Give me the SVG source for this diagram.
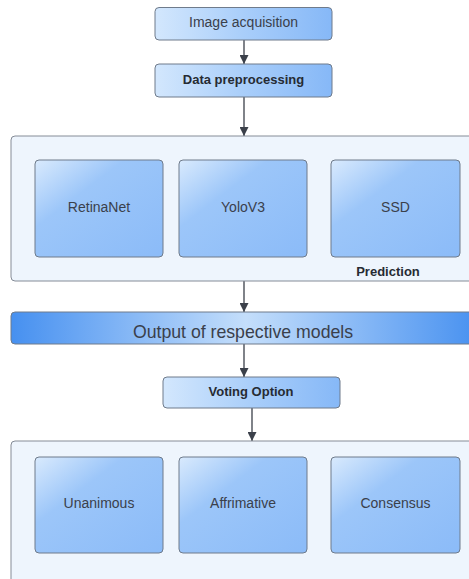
<svg xmlns="http://www.w3.org/2000/svg" width="469" height="579" viewBox="0 0 469 579">
<defs>
<linearGradient id="gBox" x1="0" y1="0" x2="1" y2="1">
<stop offset="0" stop-color="#d9eafd"/>
<stop offset="0.35" stop-color="#9cc6f9"/>
<stop offset="1" stop-color="#8bbbf8"/>
</linearGradient>
<linearGradient id="gSmall" x1="0" y1="0" x2="1" y2="0">
<stop offset="0" stop-color="#d3e7fd"/>
<stop offset="0.5" stop-color="#a9cefa"/>
<stop offset="1" stop-color="#86b8f7"/>
</linearGradient>
<linearGradient id="gBar" x1="0" y1="0" x2="1" y2="0">
<stop offset="0" stop-color="#4690f0"/>
<stop offset="0.5" stop-color="#c4defb"/>
<stop offset="1" stop-color="#4690f0"/>
</linearGradient>
<marker id="arr" viewBox="0 0 10 10" refX="10" refY="5" markerWidth="9" markerHeight="9" markerUnits="userSpaceOnUse" orient="auto">
<path d="M0,0 L10,5 L0,10 z" fill="#3b404a"/>
</marker>
</defs>
<style>
.box{fill:url(#gBox);stroke:#6f7b8b;stroke-width:1}
.small{fill:url(#gSmall);stroke:#6f7b8b;stroke-width:1}
.cont{fill:#eef5fd;stroke:#858c97;stroke-width:1}
.lbl{font-family:"Liberation Sans",Arial,sans-serif;font-size:14px;fill:#3a404b;text-anchor:middle}
.b{font-weight:bold;font-size:13px;fill:#262b33}
.conn{stroke:#3b404a;stroke-width:1.3;fill:none;marker-end:url(#arr)}
</style>
<g id="connectors">
<line class="conn" x1="244" y1="40" x2="244" y2="64"/>
<line class="conn" x1="244" y1="97" x2="244" y2="136"/>
<line class="conn" x1="244" y1="281" x2="244" y2="312"/>
<line class="conn" x1="244" y1="344" x2="244" y2="377"/>
<line class="conn" x1="252" y1="408" x2="252" y2="441"/>
</g>
<g id="image-acquisition">
<rect class="small" x="155" y="7.5" width="177" height="32.5" rx="4"/>
<text class="lbl" x="243.5" y="27">Image acquisition</text>
</g>
<g id="data-preprocessing">
<rect class="small" x="155" y="64" width="177" height="33" rx="4"/>
<text class="lbl b" x="243.5" y="83.5">Data preprocessing</text>
</g>
<g id="prediction">
<rect class="cont" x="11" y="136" width="470" height="145" rx="4"/>
<text class="lbl b" x="388" y="275.5">Prediction</text>
</g>
<g id="retinanet">
<rect class="box" x="35" y="160" width="128" height="97" rx="4"/>
<text class="lbl" x="99" y="212">RetinaNet</text>
</g>
<g id="yolov3">
<rect class="box" x="179" y="160" width="128" height="97" rx="4"/>
<text class="lbl" x="243" y="212">YoloV3</text>
</g>
<g id="ssd">
<rect class="box" x="331" y="160" width="129" height="97" rx="4"/>
<text class="lbl" x="395.5" y="212">SSD</text>
</g>
<g id="output">
<rect x="11" y="312" width="470" height="32" rx="4" fill="url(#gBar)" stroke="#6f7b8b" stroke-width="1"/>
<text class="lbl" x="243" y="337.5" style="font-size:17.7px">Output of respective models</text>
</g>
<g id="voting-option">
<rect class="small" x="163" y="377" width="177" height="31" rx="4"/>
<text class="lbl b" x="251" y="395.5">Voting Option</text>
</g>
<g id="voting">
<rect class="cont" x="11" y="441" width="470" height="150" rx="4"/>
</g>
<g id="unanimous">
<rect class="box" x="35" y="457" width="128" height="96" rx="4"/>
<text class="lbl" x="99" y="508">Unanimous</text>
</g>
<g id="affrimative">
<rect class="box" x="179" y="457" width="128" height="96" rx="4"/>
<text class="lbl" x="243" y="508">Affrimative</text>
</g>
<g id="consensus">
<rect class="box" x="331" y="457" width="129" height="96" rx="4"/>
<text class="lbl" x="395.5" y="508">Consensus</text>
</g>
</svg>
